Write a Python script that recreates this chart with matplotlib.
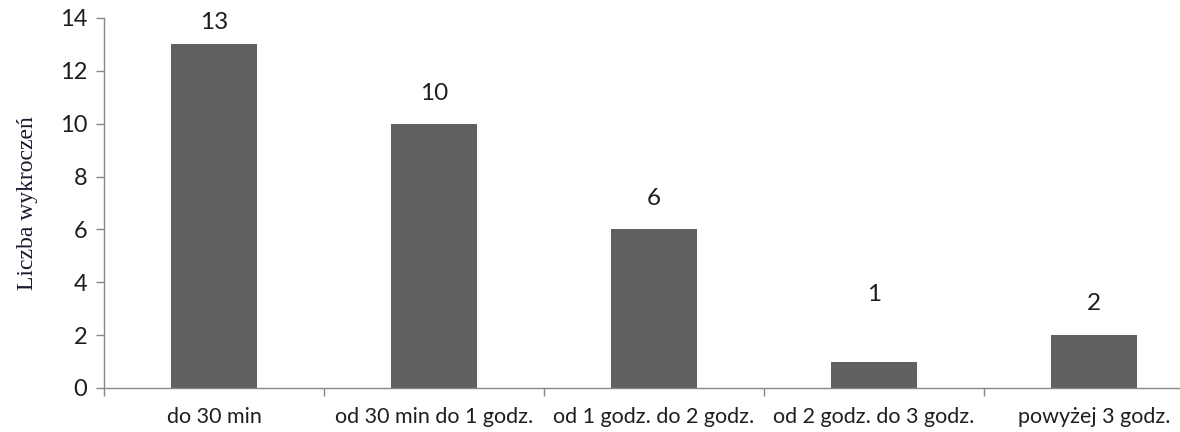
import matplotlib.pyplot as plt
import numpy as np

kategorie = ['do 30 min', 'od 30 min do 1 godz.', 'od 1 godz. do 2 godz.',
             'od 2 godz. do 3 godz.', 'powyżej 3 godz.']
liczba = [13, 10, 6, 1, 2]
# odstep etykiety nad slupkiem (w punktach)
odstep = [8, 14.5, 14.5, 41, 15]

fig = plt.figure(figsize=(11.8, 4.32), dpi=100)
ax = fig.add_axes([104 / 1180, 44 / 432, 1100 / 1180, 370 / 432])

x = np.arange(len(kategorie))
slupki = ax.bar(x, liczba, width=0.39, color='#606060')

for xi, val, off in zip(x, liczba, odstep):
    ax.annotate(str(val), (xi, val), xytext=(0, off), textcoords='offset points',
                ha='center', va='bottom', fontsize=17.5, family='Lato', color='#1e1e1e')

ax.set_xlim(-0.5, len(kategorie) - 0.5)
ax.set_ylim(0, 14)
ax.set_yticks(range(0, 15, 2))
ax.set_yticklabels([str(v) for v in range(0, 15, 2)], family='Lato', fontsize=17, color='#1e1e1e')

# podpisy kategorii na srodku, kreski na granicach
ax.set_xticks(x)
ax.set_xticklabels(kategorie, family='Lato', fontsize=15.5, color='#1e1e1e')
ax.tick_params(axis='x', which='major', length=0, pad=14)
ax.set_xticks(np.arange(len(kategorie) + 1) - 0.5, minor=True)
ax.tick_params(axis='x', which='minor', length=6, color='#878787', width=1)
ax.tick_params(axis='y', length=6, color='#878787', width=1, pad=6)

for s in ['top', 'right']:
    ax.spines[s].set_visible(False)
for s in ['left', 'bottom']:
    ax.spines[s].set_color('#878787')
    ax.spines[s].set_linewidth(1)

ax.set_ylabel('Liczba wykroczeń', family='Liberation Serif', fontsize=17, color='#1a1a2e', labelpad=16)

fig.savefig('out.png', dpi=100)
